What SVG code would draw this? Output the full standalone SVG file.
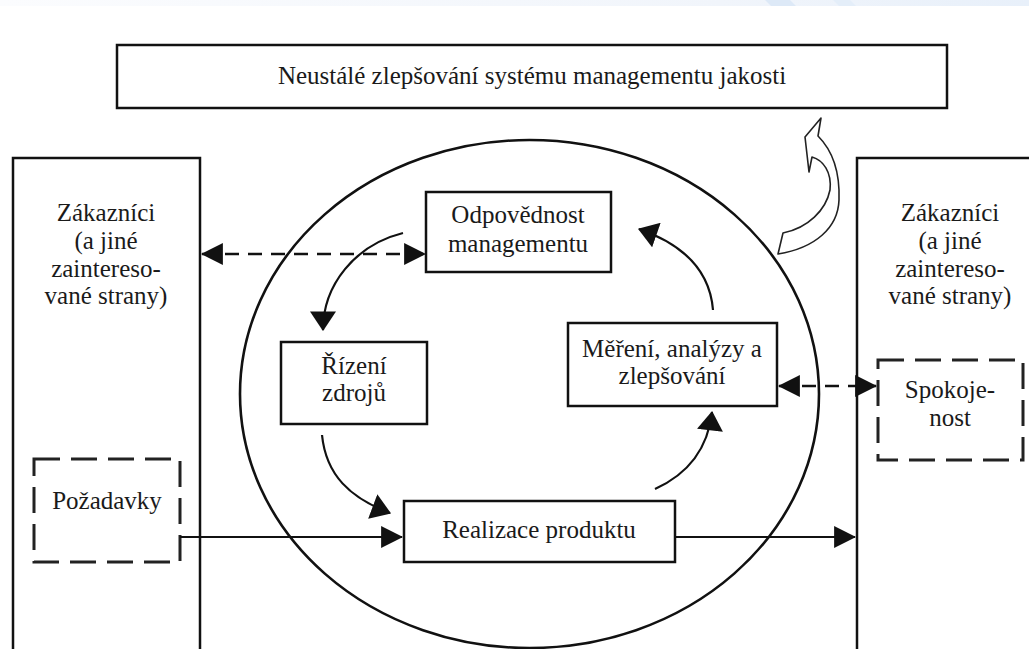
<svg xmlns="http://www.w3.org/2000/svg" width="1029" height="649" viewBox="0 0 1029 649">
<defs>
<linearGradient id="band" x1="0" y1="0" x2="1" y2="0">
<stop offset="0" stop-color="#fbfcfe"/>
<stop offset="0.7" stop-color="#f1f5fb"/>
<stop offset="1" stop-color="#e8f0fa"/>
</linearGradient>
<marker id="ah" markerUnits="userSpaceOnUse" markerWidth="22" markerHeight="22" viewBox="0 0 20 20" refX="19" refY="10" orient="auto-start-reverse">
<path d="M0,0 L20,10 L0,20 Z" fill="#111"/>
</marker>
<marker id="ahw" markerUnits="userSpaceOnUse" markerWidth="20" markerHeight="26" viewBox="0 0 18 24" refX="17" refY="12" orient="auto">
<path d="M0,0 L18,12 L0,24 Z" fill="#111"/>
</marker>
</defs>
<style>
.box{fill:#fff;stroke:#111;stroke-width:2.5}
.dbox{fill:#fff;stroke:#222;stroke-width:3;stroke-dasharray:26 11}
.t{font-size:25px;fill:#1a1a1a;text-anchor:middle}
.ln{fill:none;stroke:#111;stroke-width:2.2}
.dl{fill:none;stroke:#111;stroke-width:2.5;stroke-dasharray:14 9}
</style>
<rect x="0" y="0" width="1029" height="649" fill="#fff"/>
<rect x="0" y="0" width="1029" height="6" fill="url(#band)"/>
<path d="M765,0 L790,0 L796,6 L771,6 Z" fill="#dde9f7"/>
<path d="M833,0 L850,0 L856,6 L839,6 Z" fill="#e4eef9"/>

<g font-family="Liberation Serif, DejaVu Serif, serif">
<g id="top-box">
<rect class="box" x="117" y="45" width="830" height="63" stroke-width="3"/>
<text class="t" x="532" y="84">Neustálé zlepšování systému managementu jakosti</text>
</g>

<g id="left-customers">
<rect class="box" x="13" y="158" width="187" height="520"/>
<text class="t" x="106" y="221">Zákazníci</text>
<text class="t" x="106" y="249">(a jiné</text>
<text class="t" x="106" y="277">zaintereso-</text>
<text class="t" x="106" y="304">vané strany)</text>
</g>

<g id="right-customers">
<rect class="box" x="857" y="158" width="200" height="520"/>
<text class="t" x="950" y="221">Zákazníci</text>
<text class="t" x="950" y="249">(a jiné</text>
<text class="t" x="950" y="277">zaintereso-</text>
<text class="t" x="950" y="304">vané strany)</text>
</g>

<g id="cycle">
<ellipse cx="529.5" cy="394" rx="289.5" ry="254" fill="none" stroke="#111" stroke-width="2.6"/>
</g>

<g id="pozadavky">
<rect class="dbox" x="34" y="459" width="146" height="103"/>
<text class="t" x="107" y="509">Požadavky</text>
</g>

<g id="spokojenost">
<rect class="dbox" x="878" y="360" width="145" height="100"/>
<text class="t" x="950" y="398">Spokoje-</text>
<text class="t" x="950" y="426">nost</text>
</g>

<g id="odpovednost">
<rect class="box" x="426" y="192" width="185" height="80"/>
<text class="t" x="518" y="223">Odpovědnost</text>
<text class="t" x="518" y="252">managementu</text>
</g>

<g id="rizeni">
<rect class="box" x="281" y="342" width="146" height="82"/>
<text class="t" x="354" y="374">Řízení</text>
<text class="t" x="354" y="401">zdrojů</text>
</g>

<g id="mereni">
<rect class="box" x="568" y="323" width="209" height="83"/>
<text class="t" x="672" y="357">Měření, analýzy a</text>
<text class="t" x="672" y="384">zlepšování</text>
</g>

<g id="realizace">
<rect class="box" x="404" y="501" width="271" height="61"/>
<text class="t" x="539" y="538">Realizace produktu</text>
</g>
</g>

<g id="improvement-arrow">
<path d="M821,118 L818,136 C832,150 840,172 839,200 C838,228 815,248 778,254 L783,233 C808,228 826,210 830,190 C832,172 823,160 812,157 L809,172 L805,137 Z" fill="#fff" stroke="#222" stroke-width="1.6" stroke-linejoin="round"/>
</g>

<g id="connectors">
<path class="dl" d="M202,254 L425,254" marker-start="url(#ah)" marker-end="url(#ah)"/>
<path class="dl" d="M779,386 L876,386" marker-start="url(#ah)" marker-end="url(#ah)"/>
<path class="ln" d="M180,537 L402,537" marker-end="url(#ah)"/>
<path class="ln" d="M675,537 L855,537" marker-end="url(#ah)"/>
<path class="ln" d="M403,233 C355,245 323,285 323,330" marker-end="url(#ahw)"/>
<path class="ln" d="M322,435 C326,475 350,498 390,513" marker-end="url(#ahw)"/>
<path class="ln" d="M655,489 C688,474 708,448 712,412" marker-end="url(#ahw)"/>
<path class="ln" d="M713,310 C710,272 685,245 639,229" marker-end="url(#ahw)"/>
</g>
</svg>
